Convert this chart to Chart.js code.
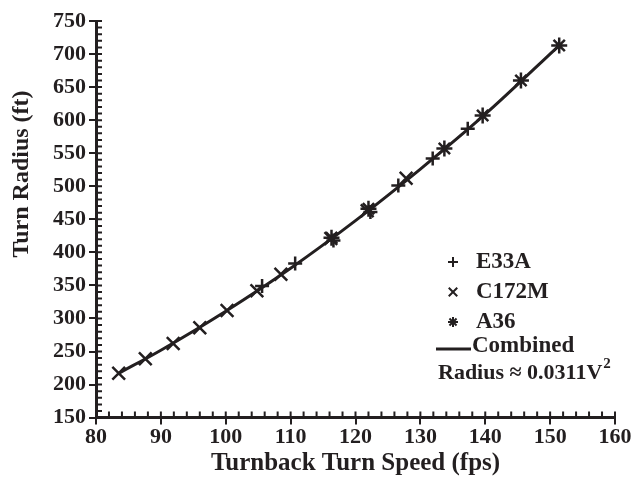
<!DOCTYPE html>
<html>
<head>
<meta charset="utf-8">
<script src="https://cdn.jsdelivr.net/npm/chart.js@4"></script>
<style>
  html, body { margin: 0; padding: 0; background: #fff; }
  #wrap { width: 639px; height: 479px; }
</style>
</head>
<body>
<div id="wrap"><canvas id="myChart" width="639" height="479"></canvas></div>
<script>
// Datos
const e33aSpeed  = [105.6, 110.7, 116.6, 122.3, 126.6, 131.9, 137.3];
const e33aRadius = [349, 383, 418, 461, 501, 542, 587];

const c172mSpeed  = [83.5, 87.6, 91.9, 96.0, 100.2, 104.8, 108.5, 116.2, 121.8, 127.8];
const c172mRadius = [217, 239, 262, 286, 312, 342, 367, 421, 463, 512];

const a36Speed  = [116.3, 122.0, 133.7, 139.6, 145.5, 151.4];
const a36Radius = [422, 466, 557, 607, 660, 713];

// curva combinada
const combinedSpeed  = [83.5, 90, 100, 110, 120, 130, 140, 151.5];
const combinedRadius = [217, 252, 311, 376, 448, 526, 609, 714];

const xTicks = [80, 90, 100, 110, 120, 130, 140, 150, 160];
const yTicks = [150, 200, 250, 300, 350, 400, 450, 500, 550, 600, 650, 700, 750];

const legendItems = ['E33A', 'C172M', 'A36', 'Combined'];

const FONT = 'Liberation Serif';
const INK = '#231f20';

function toPoints(xs, ys) {
    return xs.map((x, i) => ({ x: x, y: ys[i] }));
}

// ticks menores hacia adentro, titulo del eje y, leyenda
const extras = {
    id: 'extras',
    afterDraw(chart) {
        const ctx = chart.ctx;
        const xs = chart.scales.x;
        const ys = chart.scales.y;
        const area = chart.chartArea;
        ctx.save();
        ctx.strokeStyle = INK;
        ctx.lineWidth = 2;
        ctx.beginPath();
        for (let v = xTicks[0]; v <= xTicks[xTicks.length - 1]; v += 2) {
            const px = xs.getPixelForValue(v);
            ctx.moveTo(px, area.bottom);
            ctx.lineTo(px, area.bottom - 6);
        }
        for (let v = yTicks[0]; v <= yTicks[yTicks.length - 1]; v += 10) {
            const py = ys.getPixelForValue(v);
            ctx.moveTo(area.left, py);
            ctx.lineTo(area.left + 6, py);
        }
        ctx.stroke();

        ctx.fillStyle = INK;

        // titulo eje y
        ctx.save();
        ctx.translate(22, 174);
        ctx.rotate(-Math.PI / 2);
        ctx.font = 'bold 24px "' + FONT + '"';
        ctx.textAlign = 'center';
        ctx.textBaseline = 'middle';
        ctx.fillText('Turn Radius (ft)', 0, 0);
        ctx.restore();

        // leyenda
        const lx = 453, tx = 476;
        const rows = [262, 292, 322];
        const styles = ['cross', 'crossRot', 'star'];
        const radii = [5, 6, 5];
        ctx.font = 'bold 23px "' + FONT + '"';
        ctx.textBaseline = 'middle';
        ctx.textAlign = 'left';
        rows.forEach((ry, i) => {
            Chart.helpers.drawPoint(ctx, { pointStyle: styles[i], radius: radii[i], borderWidth: 3 }, lx, ry);
            ctx.fillText(legendItems[i], tx, ry);
        });
        ctx.lineWidth = 3;
        ctx.beginPath();
        ctx.moveTo(436, 349);
        ctx.lineTo(471, 349);
        ctx.stroke();
        ctx.fillText(legendItems[3], 472, 346);
        ctx.font = 'bold 22px "' + FONT + '"';
        const txt = 'Radius \u2248 0.0311V';
        ctx.fillText(txt, 438, 373);
        const w = ctx.measureText(txt).width;
        ctx.font = 'bold 15px "' + FONT + '"';
        ctx.fillText('2', 438 + w + 1, 364);
        ctx.restore();
    }
};

function crearGrafico() {
    const ctx = document.getElementById('myChart').getContext('2d');
    const markerBase = {
        showLine: false,
        borderColor: INK,
        backgroundColor: INK,
        pointBorderWidth: 2.5
    };
    new Chart(ctx, {
        type: 'scatter',
        data: {
            datasets: [
                {
                    label: legendItems[3],
                    data: toPoints(combinedSpeed, combinedRadius),
                    showLine: true,
                    borderColor: INK,
                    borderWidth: 3,
                    pointRadius: 0,
                    cubicInterpolationMode: 'monotone'
                },
                Object.assign({ label: legendItems[0], data: toPoints(e33aSpeed, e33aRadius), pointStyle: 'cross', pointRadius: 7 }, markerBase),
                Object.assign({ label: legendItems[1], data: toPoints(c172mSpeed, c172mRadius), pointStyle: 'crossRot', pointRadius: 9 }, markerBase),
                Object.assign({ label: legendItems[2], data: toPoints(a36Speed, a36Radius), pointStyle: 'star', pointRadius: 8 }, markerBase)
            ]
        },
        options: {
            responsive: false,
            animation: false,
            layout: { padding: { top: 21, right: 24, left: 50, bottom: 3 } },
            scales: {
                x: {
                    type: 'linear',
                    min: 80,
                    max: 160,
                    afterBuildTicks: (s) => { s.ticks = xTicks.map(v => ({ value: v })); },
                    grid: { drawOnChartArea: false, tickLength: 7, color: INK, lineWidth: 2 },
                    border: { color: INK, width: 3 },
                    ticks: { color: INK, padding: 0, font: { family: FONT, weight: 'bold', size: 22 } },
                    title: {
                        display: true,
                        text: 'Turnback Turn Speed (fps)',
                        color: INK,
                        padding: { top: 0, bottom: 0 },
                        font: { family: FONT, weight: 'bold', size: 25, lineHeight: 1 }
                    }
                },
                y: {
                    type: 'linear',
                    min: 150,
                    max: 750,
                    afterBuildTicks: (s) => { s.ticks = yTicks.map(v => ({ value: v })); },
                    grid: { drawOnChartArea: false, tickLength: 7, color: INK, lineWidth: 2 },
                    border: { color: INK, width: 3 },
                    ticks: { color: INK, padding: 3, font: { family: FONT, weight: 'bold', size: 22 } },
                    title: { display: false }
                }
            },
            plugins: {
                legend: { display: false },
                tooltip: { enabled: false }
            }
        },
        plugins: [extras]
    });
}

crearGrafico();
</script>
</body>
</html>
